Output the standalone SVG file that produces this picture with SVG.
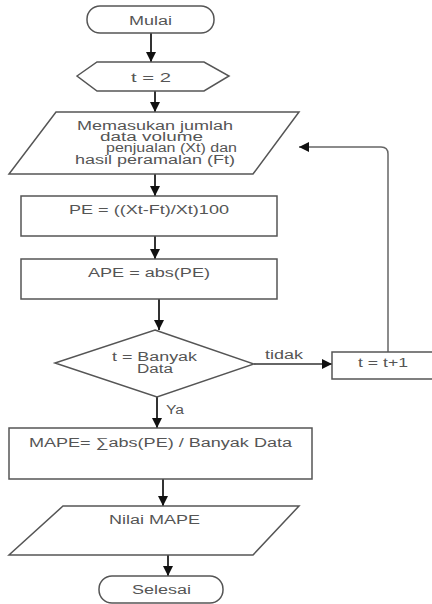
<svg xmlns="http://www.w3.org/2000/svg" width="432" height="604" viewBox="0 0 432 604">
<defs>
<marker id="ah" viewBox="0 0 10 10" refX="10" refY="5" markerWidth="10" markerHeight="10" markerUnits="userSpaceOnUse" orient="auto">
<path d="M0,0 L10,5 L0,10 Z" fill="#111"/>
</marker>
<style>
.s{fill:#fff;stroke:#555;stroke-width:1.5}
.t{font-family:"Liberation Sans",Arial,sans-serif;font-size:12.5px;fill:#555;text-anchor:start}
.c{fill:none;stroke:#333;stroke-width:2;marker-end:url(#ah)}
</style>
</defs>
<rect width="432" height="604" fill="#fff"/>
<g id="connectors">
<line class="c" x1="151" y1="33" x2="151" y2="62"/>
<line class="c" x1="155" y1="91" x2="155" y2="112"/>
<line class="c" x1="155" y1="174" x2="155" y2="196"/>
<line class="c" x1="155" y1="236" x2="155" y2="259"/>
<line class="c" x1="159" y1="299" x2="159" y2="330"/>
<line class="c" x1="254" y1="364" x2="332" y2="364" style="stroke-width:1.5"/>
<path class="c" d="M388,352 V154 Q388,147 381,147 H299" style="stroke:#666;stroke-width:1.5"/>
<line class="c" x1="157" y1="397" x2="157" y2="428"/>
<line class="c" x1="163" y1="479" x2="163" y2="506"/>
<line class="c" x1="168" y1="555" x2="168" y2="576"/>
<text class="t" x="265" y="359" textLength="38" lengthAdjust="spacingAndGlyphs">tidak</text>
<text class="t" x="166" y="414" textLength="18" lengthAdjust="spacingAndGlyphs">Ya</text>
</g>
<g id="mulai">
<rect class="s" x="87" y="6" width="127" height="27" rx="13"/>
<text class="t" x="129" y="25" textLength="43" lengthAdjust="spacingAndGlyphs">Mulai</text>
</g>
<g id="init">
<polygon class="s" points="77,76 97,62 204,62 229,76 204,91 97,91"/>
<text class="t" x="131" y="82" textLength="40" lengthAdjust="spacingAndGlyphs">t = 2</text>
</g>
<g id="input">
<polygon class="s" points="56,112 299,112 253,174 9,174"/>
<text class="t" x="77" y="130" textLength="156" lengthAdjust="spacingAndGlyphs">Memasukan jumlah</text>
<text class="t" x="100" y="141" textLength="103" lengthAdjust="spacingAndGlyphs">data volume</text>
<text class="t" x="106" y="152" textLength="131" lengthAdjust="spacingAndGlyphs">penjualan (Xt) dan</text>
<text class="t" x="75" y="164" textLength="160" lengthAdjust="spacingAndGlyphs">hasil peramalan (Ft)</text>
</g>
<g id="pe">
<rect class="s" x="21" y="196" width="256" height="40"/>
<text class="t" x="69" y="214" textLength="160" lengthAdjust="spacingAndGlyphs">PE = ((Xt-Ft)/Xt)100</text>
</g>
<g id="ape">
<rect class="s" x="21" y="259" width="256" height="40"/>
<text class="t" x="88" y="277" textLength="122" lengthAdjust="spacingAndGlyphs">APE = abs(PE)</text>
</g>
<g id="decision">
<polygon class="s" points="155,330 254,364 157,397 55,363"/>
<text class="t" x="112" y="361" textLength="85" lengthAdjust="spacingAndGlyphs">t = Banyak</text>
<text class="t" x="137" y="373" textLength="36" lengthAdjust="spacingAndGlyphs">Data</text>
</g>
<g id="increment">
<rect class="s" x="332" y="352" width="104" height="27"/>
<text class="t" x="358" y="367" textLength="50" lengthAdjust="spacingAndGlyphs">t = t+1</text>
</g>
<g id="mape">
<rect class="s" x="9" y="428" width="303" height="51"/>
<text class="t" x="29" y="447" textLength="263" lengthAdjust="spacingAndGlyphs">MAPE= ∑abs(PE) / Banyak Data</text>
</g>
<g id="output">
<polygon class="s" points="63,506 299,506 253,555 9,555"/>
<text class="t" x="109" y="524" textLength="91" lengthAdjust="spacingAndGlyphs">Nilai MAPE</text>
</g>
<g id="selesai">
<rect class="s" x="99" y="576" width="124" height="27" rx="13"/>
<text class="t" x="132" y="594" textLength="59" lengthAdjust="spacingAndGlyphs">Selesai</text>
</g>
</svg>
